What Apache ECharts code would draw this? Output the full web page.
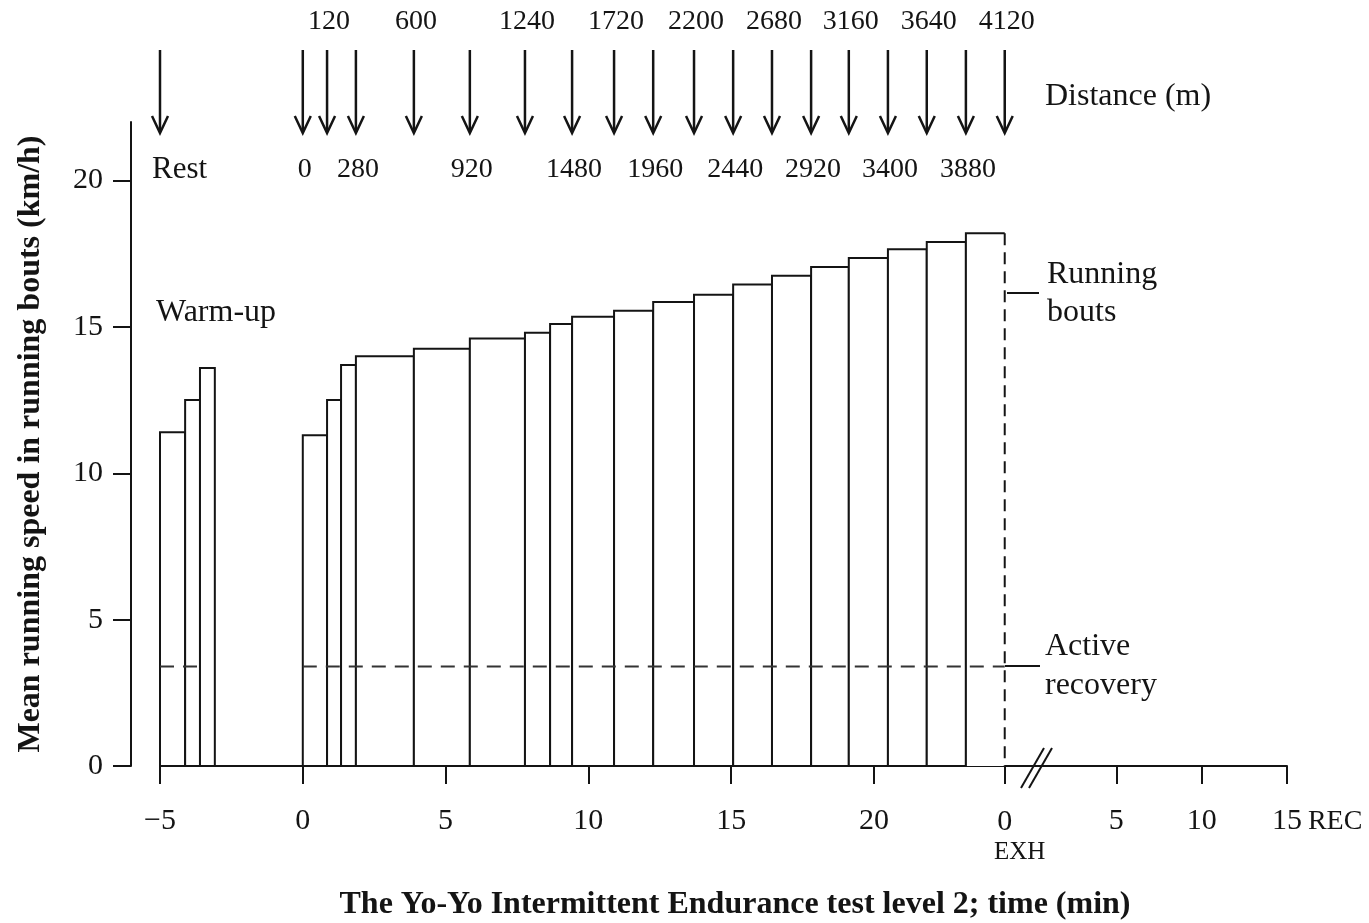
<!DOCTYPE html>
<html>
<head>
<meta charset="utf-8">
<script src="https://cdn.jsdelivr.net/npm/echarts@6/dist/echarts.min.js"></script>
<style>
html,body{margin:0;padding:0;background:#fff;}
#chart{width:1369px;height:923px;}
</style>
</head>
<body>
<div id="chart"></div>
<script>
// ---------- data ----------
const speedTicks = [0, 5, 10, 15, 20];
const timeTicks = [-5, 0, 5, 10, 15, 20];
const recTicks = [5, 10, 15];
const exhTime = 24.58;

// warm-up bouts (min, km/h)
const warmStart = [-5.0, -4.12, -3.6];
const warmEnd = [-4.12, -3.6, -3.08];
const warmSpeed = [11.4, 12.5, 13.6];

// test bouts (start time, min; speed, km/h); each ends where the next starts, the last at exhaustion
const boutStart = [0, 0.85, 1.34, 1.86, 3.89, 5.85, 7.78, 8.66, 9.43, 10.90, 12.27, 13.70, 15.07, 16.43, 17.80, 19.12, 20.49, 21.85, 23.22];
const boutSpeed = [11.3, 12.5, 13.7, 14.0, 14.25, 14.6, 14.8, 15.1, 15.35, 15.55, 15.85, 16.1, 16.45, 16.75, 17.05, 17.35, 17.65, 17.9, 18.2];

// active recovery level
const recStart = [-5.0, 0];
const recEnd = [-3.41, 24.58];
const recSpeed = 3.4;

// distance markers
const distTimes = [-5, 0, 0.85, 1.86, 3.89, 5.85, 7.78, 9.43, 10.90, 12.27, 13.70, 15.07, 16.43, 17.80, 19.12, 20.49, 21.85, 23.22, 24.58];
const distLabels = ['Rest', '0', '120', '280', '600', '920', '1240', '1480', '1720', '1960', '2200', '2440', '2680', '2920', '3160', '3400', '3640', '3880', '4120'];

// ---------- chart ----------
const INK = '#141414';
const SERIF = '"Liberation Serif", "Times New Roman", serif';
const FS = 30;
const AFS = 32;

const barData = [];
warmStart.forEach((s, i) => barData.push([s, warmEnd[i], warmSpeed[i], 0]));
boutStart.forEach((s, i) => {
  const e = i < boutStart.length - 1 ? boutStart[i + 1] : exhTime;
  barData.push([s, e, boutSpeed[i], i === boutStart.length - 1 ? 1 : 0]);
});
const recData = recStart.map((s, i) => [s, recEnd[i], recSpeed]);
const arrowData = distTimes.map((t, i) => [t, 22, i]);

function fmtTime(v) {
  if (Math.abs(v - exhTime) < 1e-6) return '{n|0}\n{e|EXH}';
  if (v < 0) return '\u2212' + Math.abs(v);
  return String(v);
}

const chart = echarts.init(document.getElementById('chart'), null, {renderer: 'canvas'});
chart.setOption({
  backgroundColor: '#fff',
  animation: false,
  grid: [
    {left: 160, top: 122, width: 871, height: 644},
    {left: 1031, top: 122, width: 256, height: 644}
  ],
  xAxis: [
    {
      type: 'value', gridIndex: 0, min: -5, max: 25.5,
      axisLine: {show: true, onZero: false, lineStyle: {color: INK, width: 2}},
      axisTick: {show: true, length: 18, customValues: timeTicks.concat([exhTime]), lineStyle: {color: INK, width: 2}},
      axisLabel: {
        customValues: timeTicks.concat([exhTime]), formatter: fmtTime, margin: 40,
        fontFamily: SERIF, fontSize: FS, color: INK,
        rich: {
          n: {fontFamily: SERIF, fontSize: FS, color: INK, lineHeight: 32},
          e: {fontFamily: SERIF, fontSize: 25, color: INK, lineHeight: 28, padding: [0, 0, 0, 30]}
        }
      },
      splitLine: {show: false}
    },
    {
      type: 'value', gridIndex: 1, min: 0, max: 15,
      axisLine: {show: true, onZero: false, lineStyle: {color: INK, width: 2}},
      axisTick: {show: true, length: 18, customValues: recTicks, lineStyle: {color: INK, width: 2}},
      axisLabel: {customValues: recTicks, margin: 40, fontFamily: SERIF, fontSize: FS, color: INK},
      splitLine: {show: false},
      name: 'REC', nameLocation: 'end', nameGap: 16,
      nameTextStyle: {fontFamily: SERIF, fontSize: 28, color: INK, verticalAlign: 'top', padding: [42, 0, 0, 0]}
    }
  ],
  yAxis: [
    {
      type: 'value', gridIndex: 0, min: 0, max: 22, offset: 29,
      axisLine: {show: true, onZero: false, lineStyle: {color: INK, width: 2}},
      axisTick: {show: true, length: 18, customValues: speedTicks, lineStyle: {color: INK, width: 2}},
      axisLabel: {customValues: speedTicks, margin: 28, fontFamily: SERIF, fontSize: FS, color: INK},
      splitLine: {show: false},
      name: 'Mean running speed in running bouts (km/h)', nameLocation: 'middle', nameGap: 84, nameRotate: 90,
      nameTextStyle: {fontFamily: SERIF, fontSize: 32, fontWeight: 'bold', color: INK}
    },
    {type: 'value', gridIndex: 1, min: 0, max: 22, show: false}
  ],
  series: [
    {
      type: 'custom', name: 'bouts', xAxisIndex: 0, yAxisIndex: 0, clip: false,
      encode: {x: [0, 1], y: 2},
      data: barData,
      renderItem: function (params, api) {
        const s = api.value(0), e = api.value(1), v = api.value(2), last = api.value(3);
        const p0 = api.coord([s, 0]);
        const p1 = api.coord([e, v]);
        const x0 = p0[0], y0 = p0[1], x1 = p1[0], y1 = p1[1];
        if (!last) {
          return {
            type: 'rect',
            shape: {x: x0, y: y1, width: x1 - x0, height: y0 - y1},
            style: {fill: '#fff', stroke: INK, lineWidth: 2}
          };
        }
        return {
          type: 'group',
          children: [
            {type: 'rect', shape: {x: x0, y: y1, width: x1 - x0, height: y0 - y1}, style: {fill: '#fff', stroke: null}},
            {type: 'polyline', shape: {points: [[x0, y0], [x0, y1], [x1, y1]]}, style: {fill: null, stroke: INK, lineWidth: 2}},
            {type: 'line', shape: {x1: x1, y1: y1, x2: x1, y2: y0}, style: {stroke: INK, lineWidth: 2, lineDash: [12, 7]}}
          ]
        };
      }
    },
    {
      type: 'custom', name: 'recovery', xAxisIndex: 0, yAxisIndex: 0, clip: false,
      encode: {x: [0, 1], y: 2},
      data: recData,
      renderItem: function (params, api) {
        const a = api.coord([api.value(0), api.value(2)]);
        const b = api.coord([api.value(1), api.value(2)]);
        return {
          type: 'line', z2: 5,
          shape: {x1: a[0], y1: a[1], x2: b[0], y2: b[1]},
          style: {stroke: '#333', lineWidth: 2, lineDash: [14, 9]}
        };
      }
    },
    {
      type: 'custom', name: 'distance', xAxisIndex: 0, yAxisIndex: 0, clip: false,
      encode: {x: 0, y: 1},
      data: arrowData,
      renderItem: function (params, api) {
        const i = api.value(2);
        const p = api.coord([api.value(0), api.value(1)]);
        const x = p[0], yTop = p[1];
        const tip = yTop + 11, start = yTop - 72;
        const label = distLabels[i];
        const low = (i === 0 || i % 2 === 1);
        const txt = label === 'Rest'
          ? {type: 'text', style: {text: label, x: x - 8, y: yTop + 48, align: 'left', verticalAlign: 'middle', font: '31px ' + SERIF, fill: INK}}
          : {type: 'text', style: {text: label, x: x + 2, y: low ? yTop + 48 : yTop - 100, align: 'center', verticalAlign: 'middle', font: '28px ' + SERIF, fill: INK}};
        return {
          type: 'group',
          children: [
            {type: 'line', shape: {x1: x, y1: start, x2: x, y2: tip - 1}, style: {stroke: INK, lineWidth: 2.5}},
            {type: 'polyline', shape: {points: [[x - 8, tip - 17], [x, tip], [x + 8, tip - 17]]}, style: {fill: null, stroke: INK, lineWidth: 2.5}},
            txt
          ]
        };
      }
    }
  ],
  graphic: [
    {type: 'text', left: 1045, top: 81, style: {text: 'Distance (m)', font: AFS + 'px ' + SERIF, fill: INK}},
    {type: 'text', left: 156, top: 297, style: {text: 'Warm-up', font: AFS + 'px ' + SERIF, fill: INK}},
    {type: 'line', shape: {x1: 1007, y1: 293, x2: 1039, y2: 293}, style: {stroke: INK, lineWidth: 2}},
    {type: 'text', left: 1047, top: 256, style: {text: 'Running\nbouts', font: AFS + 'px ' + SERIF, fill: INK, lineHeight: 38}},
    {type: 'line', shape: {x1: 1005, y1: 666, x2: 1040, y2: 666}, style: {stroke: INK, lineWidth: 2}},
    {type: 'text', left: 1045, top: 627, style: {text: 'Active\nrecovery', font: AFS + 'px ' + SERIF, fill: INK, lineHeight: 39}},
    {type: 'line', shape: {x1: 1021, y1: 788, x2: 1044, y2: 748}, style: {stroke: INK, lineWidth: 2}},
    {type: 'line', shape: {x1: 1029, y1: 788, x2: 1052, y2: 748}, style: {stroke: INK, lineWidth: 2}},
    {type: 'text', x: 735, y: 905, style: {text: 'The Yo-Yo Intermittent Endurance test level 2; time (min)', font: 'bold 32px ' + SERIF, fill: INK, align: 'center', verticalAlign: 'middle'}}
  ]
});
</script>
</body>
</html>
